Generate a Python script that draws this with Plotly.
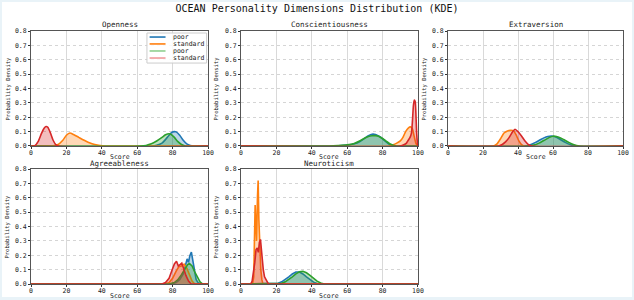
import plotly.graph_objects as go
from plotly.subplots import make_subplots

# ---------------- data ----------------
dimensions = ["Openness", "Conscientiousness", "Extraversion", "Agreeableness", "Neuroticism"]
series_names = ["poor", "standard", "poor", "standard"]
series_colors = ["#1f77b4", "#ff7f0e", "#2ca02c", "#d62728"]
legend_colors = ["#1f77b4", "#ff7f0e", "#8fd08f", "#f09a9b"]
x_ticks = [0, 20, 40, 60, 80, 100]
y_ticks = [0.0, 0.1, 0.2, 0.3, 0.4, 0.5, 0.6, 0.7, 0.8]
x_label = "Score"
y_label = "Probability Density"

# Openness
open_blue_x = [0, 68, 71, 74, 76, 78, 79.5, 81, 82, 84, 86, 88, 90, 92, 100]
open_blue_y = [0, 0, 0.005, 0.02, 0.045, 0.075, 0.095, 0.10, 0.098, 0.075, 0.04, 0.015, 0.004, 0, 0]
open_orange_x = [0, 12, 15, 18, 20, 22, 24, 27, 30, 33, 36, 39, 42, 100]
open_orange_y = [0, 0, 0.008, 0.04, 0.075, 0.09, 0.08, 0.06, 0.04, 0.022, 0.01, 0.003, 0, 0]
open_green_x = [0, 62, 65, 68, 71, 74, 76, 78, 79, 81, 83, 85, 87, 100]
open_green_y = [0, 0, 0.004, 0.015, 0.035, 0.06, 0.078, 0.085, 0.082, 0.06, 0.03, 0.01, 0, 0]
open_red_x = [0, 2, 4, 6, 7.5, 8.5, 9.5, 11, 12.5, 14, 15.5, 100]
open_red_y = [0, 0, 0.03, 0.09, 0.125, 0.136, 0.13, 0.09, 0.04, 0.01, 0, 0]

# Conscientiousness
cons_blue_x = [0, 50, 55, 60, 64, 67, 70, 72, 74, 76, 78, 80, 82, 84, 86, 100]
cons_blue_y = [0, 0, 0.002, 0.006, 0.015, 0.03, 0.055, 0.072, 0.082, 0.08, 0.068, 0.05, 0.028, 0.01, 0, 0]
cons_orange_x = [0, 84, 86, 88, 90, 91.5, 93, 94.5, 95.8, 96.8, 97.8, 98.8, 99.5, 100]
cons_orange_y = [0, 0, 0.008, 0.02, 0.035, 0.06, 0.1, 0.125, 0.133, 0.12, 0.07, 0.02, 0.005, 0]
cons_green_x = [0, 50, 55, 60, 64, 67, 70, 72, 74, 76, 78, 80, 82, 84, 86, 88, 100]
cons_green_y = [0, 0, 0.003, 0.008, 0.018, 0.035, 0.055, 0.066, 0.071, 0.072, 0.066, 0.052, 0.034, 0.016, 0.005, 0, 0]
cons_red_x = [0, 90, 92, 93.5, 94.5, 95.5, 96.3, 96.9, 97.4, 97.9, 98.4, 98.9, 99.3, 99.7, 100]
cons_red_y = [0, 0, 0.008, 0.02, 0.04, 0.06, 0.09, 0.18, 0.28, 0.32, 0.31, 0.2, 0.08, 0.02, 0]

# Extraversion
extr_blue_x = [0, 44, 47, 50, 53, 56, 58, 60, 62, 64, 67, 70, 73, 100]
extr_blue_y = [0, 0, 0.008, 0.025, 0.045, 0.062, 0.068, 0.068, 0.06, 0.047, 0.025, 0.008, 0, 0]
extr_orange_x = [0, 26, 28, 30, 32, 34, 36, 37.5, 39, 40.5, 42, 43.5, 100]
extr_orange_y = [0, 0, 0.015, 0.05, 0.09, 0.105, 0.11, 0.105, 0.075, 0.035, 0.01, 0, 0]
extr_green_x = [0, 46, 49, 52, 55, 58, 60, 62, 64, 66, 69, 72, 75, 100]
extr_green_y = [0, 0, 0.006, 0.02, 0.04, 0.06, 0.068, 0.066, 0.058, 0.045, 0.025, 0.008, 0, 0]
extr_red_x = [0, 29, 31, 33, 35, 37, 38.3, 40, 42, 44, 46, 48, 100]
extr_red_y = [0, 0, 0.01, 0.03, 0.06, 0.1, 0.116, 0.1, 0.07, 0.035, 0.01, 0, 0]

# Agreeableness
agre_blue_x = [0, 79, 82, 84, 86, 87.2, 88.2, 89, 89.7, 90.6, 91.4, 92.3, 93.3, 94.5, 96, 100]
agre_blue_y = [0, 0, 0.01, 0.03, 0.07, 0.12, 0.175, 0.15, 0.195, 0.222, 0.16, 0.08, 0.03, 0.008, 0, 0]
agre_orange_x = [0, 76, 78, 80, 82, 83.5, 85, 86.5, 88, 89.5, 91, 92.5, 100]
agre_orange_y = [0, 0, 0.01, 0.04, 0.09, 0.12, 0.125, 0.138, 0.11, 0.06, 0.02, 0, 0]
agre_green_x = [0, 78, 81, 83, 85, 87, 88.5, 89.5, 91, 92.5, 94, 95.5, 97, 100]
agre_green_y = [0, 0, 0.01, 0.03, 0.065, 0.11, 0.135, 0.142, 0.125, 0.085, 0.045, 0.015, 0, 0]
agre_red_x = [0, 74, 76, 78, 79.5, 81, 82.2, 83.2, 84.2, 85.2, 86.2, 87.5, 89, 90.5, 100]
agre_red_y = [0, 0, 0.01, 0.04, 0.09, 0.14, 0.158, 0.125, 0.135, 0.145, 0.11, 0.06, 0.02, 0, 0]

# Neuroticism
neur_blue_x = [0, 19, 21, 23, 25, 27, 29, 31, 33, 35, 37, 39, 41, 43, 45, 100]
neur_blue_y = [0, 0, 0.005, 0.015, 0.03, 0.05, 0.07, 0.083, 0.083, 0.07, 0.05, 0.03, 0.013, 0.004, 0, 0]
neur_orange_x = [0, 6.5, 7.2, 7.7, 8.0, 8.4, 8.8, 9.3, 9.7, 10.1, 10.6, 11.2, 11.8, 12.4, 100]
neur_orange_y = [0, 0, 0.05, 0.35, 0.55, 0.4, 0.3, 0.6, 0.72, 0.45, 0.2, 0.1, 0.03, 0, 0]
neur_green_x = [0, 21, 23, 25, 27, 29, 31, 33, 35, 37, 39, 41, 43, 45, 47, 100]
neur_green_y = [0, 0, 0.005, 0.015, 0.03, 0.05, 0.07, 0.085, 0.088, 0.078, 0.06, 0.04, 0.02, 0.007, 0, 0]
neur_red_x = [0, 5.5, 6.3, 7, 7.8, 8.5, 9.2, 9.8, 10.4, 11, 11.5, 12, 12.6, 13.3, 14, 14.8, 15.5, 100]
neur_red_y = [0, 0, 0.02, 0.07, 0.15, 0.24, 0.25, 0.22, 0.29, 0.31, 0.25, 0.15, 0.1, 0.05, 0.03, 0.01, 0, 0]

curves = [
    [(open_blue_x, open_blue_y), (open_orange_x, open_orange_y), (open_green_x, open_green_y), (open_red_x, open_red_y)],
    [(cons_blue_x, cons_blue_y), (cons_orange_x, cons_orange_y), (cons_green_x, cons_green_y), (cons_red_x, cons_red_y)],
    [(extr_blue_x, extr_blue_y), (extr_orange_x, extr_orange_y), (extr_green_x, extr_green_y), (extr_red_x, extr_red_y)],
    [(agre_blue_x, agre_blue_y), (agre_orange_x, agre_orange_y), (agre_green_x, agre_green_y), (agre_red_x, agre_red_y)],
    [(neur_blue_x, neur_blue_y), (neur_orange_x, neur_orange_y), (neur_green_x, neur_green_y), (neur_red_x, neur_red_y)],
]
smooth_panels = [True, True, True, False, False]

FONT = "DejaVu Sans Mono"

def rgba(hexc, a):
    h = hexc.lstrip("#")
    return "rgba(%d,%d,%d,%.2f)" % (int(h[0:2], 16), int(h[2:4], 16), int(h[4:6], 16), a)

fig = make_subplots(rows=2, cols=3, subplot_titles=dimensions,
                    horizontal_spacing=0.0557, vertical_spacing=0.091)

col_domains = [[0.0, 0.299], [0.3547, 0.6537], [0.7044, 1.0]]
row_domains = [[0.5455, 1.0], [0.0, 0.4545]]

for i, dim in enumerate(dimensions):
    r, c = i // 3 + 1, i % 3 + 1
    for j, (xs, ys) in enumerate(curves[i]):
        fig.add_trace(go.Scatter(
            x=xs, y=ys, mode="lines", name=series_names[j],
            line=dict(color=series_colors[j], width=1.6,
                      shape="spline" if smooth_panels[i] else "linear",
                      smoothing=0.6),
            fill="tozeroy", fillcolor=rgba(series_colors[j], 0.3),
            showlegend=False, hoverinfo="skip"), row=r, col=c)

axis_common = dict(showline=True, linecolor="#555", linewidth=1, mirror=True,
                   ticks="outside", ticklen=2, tickcolor="#333", automargin=False,
                   tickfont=dict(family=FONT, size=6.5, color="#222"))
for i in range(6):
    r, c = i // 3 + 1, i % 3 + 1
    if i < 5:
        fig.update_xaxes(range=[0, 100], tickvals=x_ticks, domain=col_domains[c - 1],
                         showgrid=True, gridcolor="#d9d9d9", gridwidth=1, griddash="solid",
                         ticklabelstandoff=-2,
                         zeroline=False, **axis_common, row=r, col=c)
        fig.update_yaxes(range=[0, 0.8], tickvals=y_ticks, tickformat=".1f",
                         domain=row_domains[r - 1],
                         showgrid=True, gridcolor="#d5d5d5", griddash="dot", gridwidth=1,
                         zeroline=False, **axis_common, row=r, col=c)
    else:
        fig.update_xaxes(visible=False, domain=col_domains[c - 1], row=r, col=c)
        fig.update_yaxes(visible=False, domain=row_domains[r - 1], row=r, col=c)

# subplot title styling and positions
for k, ann in enumerate(fig.layout.annotations):
    ann.font = dict(family=FONT, size=7.5, color="#222")
    r, c = k // 3 + 1, k % 3 + 1
    ann.x = sum(col_domains[c - 1]) / 2
    ann.y = row_domains[r - 1][1]
    ann.yshift = -1 if r == 2 else 0

# axis titles as annotations (tight placement)
for i in range(5):
    r, c = i // 3 + 1, i % 3 + 1
    fig.add_annotation(xref="paper", yref="paper", x=sum(col_domains[c - 1]) / 2,
                       y=row_domains[r - 1][0], yshift=-11 if r == 1 else -12,
                       text=x_label, showarrow=False, xanchor="center", yanchor="middle",
                       font=dict(family=FONT, size=6.5, color="#222"))
    fig.add_annotation(xref="paper", yref="paper", x=col_domains[c - 1][0],
                       y=sum(row_domains[r - 1]) / 2, xshift=-23 if c == 1 else -24,
                       text=y_label, textangle=-90, showarrow=False,
                       xanchor="center", yanchor="middle",
                       font=dict(family=FONT, size=5.5, color="#222"))

# manual legend inside the Openness panel (data coords of first axes)
fig.add_shape(type="rect", xref="x", yref="y", x0=65.5, x1=99.2, y0=0.577, y1=0.786,
              line=dict(color="#cccccc", width=1), fillcolor="rgba(255,255,255,0.85)")
leg_rows = [0.758, 0.710, 0.661, 0.612]
for j, name in enumerate(series_names):
    fig.add_shape(type="line", xref="x", yref="y", x0=67.0, x1=76.0,
                  y0=leg_rows[j], y1=leg_rows[j],
                  line=dict(color=legend_colors[j], width=1.6))
    fig.add_annotation(xref="x", yref="y", x=79.0, y=leg_rows[j], text=name,
                       showarrow=False, xanchor="left", yanchor="middle",
                       font=dict(family=FONT, size=6.5, color="#222"))

# faint outer border: light paper, white inner panel
fig.add_shape(type="rect", xref="paper", yref="paper", layer="below",
              x0=(2 - 31) / 592, x1=(632 - 31) / 592,
              y0=(284 - 297) / 253, y1=(284 - 2) / 253,
              line=dict(width=0), fillcolor="white")

fig.update_layout(
    width=634, height=300,
    margin=dict(l=31, r=11, t=31, b=16),
    paper_bgcolor="#e9f3f8", plot_bgcolor="white",
    title=dict(text="OCEAN Personality Dimensions Distribution (KDE)",
               font=dict(family=FONT, size=10, color="#111"),
               x=0.5, xref="container", xanchor="center",
               y=1 - 8 / 300, yref="container", yanchor="middle"),
    showlegend=False,
)

fig.write_html("out.html", config={"displayModeBar": False},
               post_script="document.body.style.margin='0px';")
